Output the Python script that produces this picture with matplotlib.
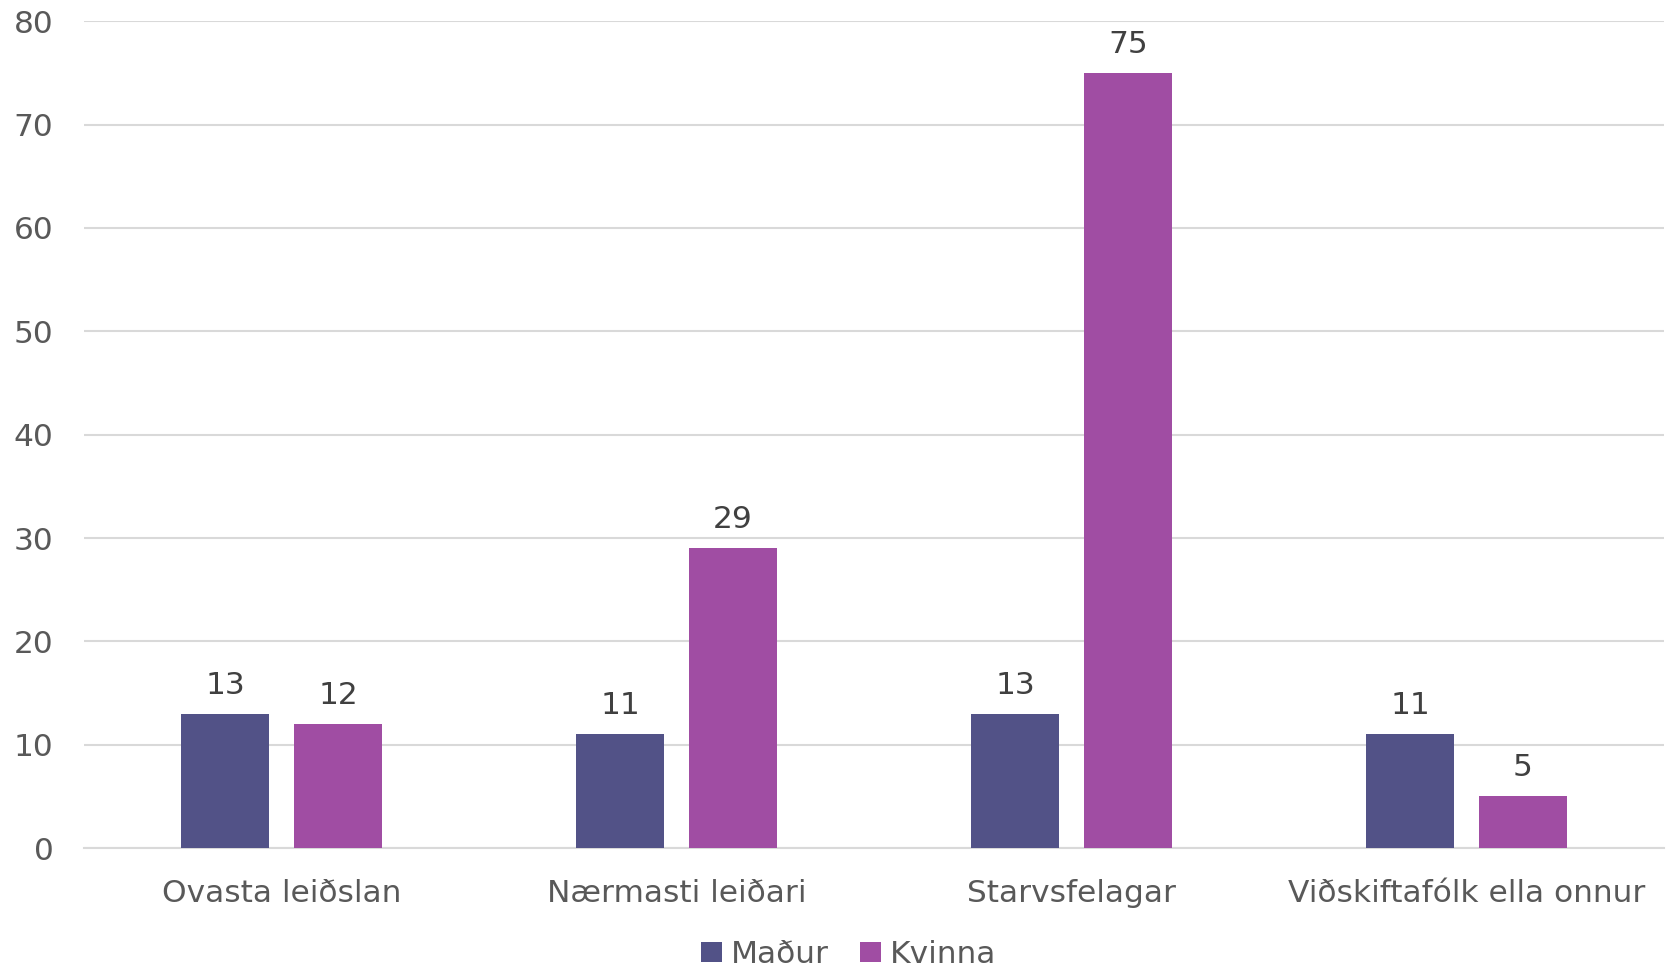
import matplotlib.pyplot as plt
import numpy as np

categories = ["Ovasta leiðslan", "Nærmasti leiðari", "Starvsfelagar", "Viðskiftafólk ella onnur"]
madur = [13, 11, 13, 11]
kvinna = [12, 29, 75, 5]
series = ["Maður", "Kvinna"]
colors = ["#525287", "#A04DA3"]

plt.rcParams["font.family"] = ["DejaVu Sans"]

fig = plt.figure(figsize=(16.71, 9.67), dpi=100)
ax = fig.add_axes([0.0503, 0.123, 0.9455, 0.855])

x = np.arange(len(categories))
width = 0.224
offset = 0.143
b1 = ax.bar(x - offset, madur, width, color=colors[0], label=series[0], zorder=3)
b2 = ax.bar(x + offset, kvinna, width, color=colors[1], label=series[1], zorder=3)

for bars in (b1, b2):
    ax.bar_label(bars, padding=10, fontsize=22.5, color="#404040")

ax.set_xlim(-0.5, len(categories) - 0.5)
ax.set_ylim(0, 80)
ax.set_yticks(range(0, 81, 10))
ax.set_xticks(x)
ax.set_xticklabels(categories)
ax.yaxis.grid(True, color="#d9d9d9", linewidth=1.5, zorder=0)
ax.tick_params(axis="both", length=0, labelsize=22.5, colors="#595959")
ax.tick_params(axis="x", pad=22.5)
ax.tick_params(axis="y", pad=22)
for side in ("top", "right", "left"):
    ax.spines[side].set_visible(False)
ax.spines["bottom"].set_color("#d9d9d9")
ax.spines["bottom"].set_linewidth(1.5)

fig.legend(loc="center", bbox_to_anchor=(0.508, 0.013), ncol=2, frameon=False,
           fontsize=22.5, labelcolor="#595959", handlelength=0.65, handleheight=0.65,
           handletextpad=0.3, columnspacing=1.0)

fig.savefig("out.png", dpi=100)
